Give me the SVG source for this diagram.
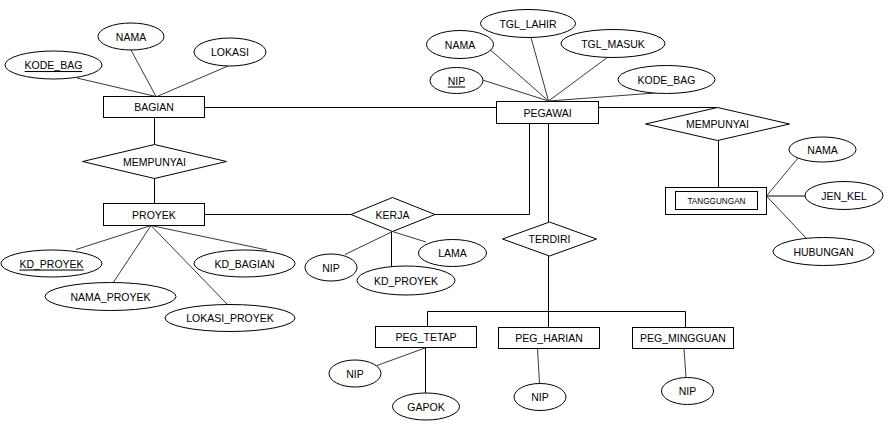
<svg xmlns="http://www.w3.org/2000/svg" width="888" height="426" viewBox="0 0 888 426">
<style>
.s{fill:#fff;stroke:#000;stroke-width:1}
.c{fill:none;stroke:#000;stroke-width:1}
.a{fill:none;stroke:#222;stroke-width:0.9}
text{font-family:"Liberation Sans",Arial,sans-serif;font-size:10.5px;fill:#000;text-anchor:middle;dominant-baseline:central}
.u{text-decoration:underline}
.sm{font-size:8.2px}
</style>
<rect width="888" height="426" fill="#fff"/>
<g id="connectors">
<!-- BAGIAN attrs -->
<line class="a" x1="77" y1="78" x2="156" y2="96.5"/>
<line class="a" x1="131" y1="50" x2="156" y2="96.5"/>
<line class="a" x1="228" y1="66" x2="157" y2="96.5"/>
<line class="c" x1="204" y1="107.5" x2="496.5" y2="107.5"/>
<line class="c" x1="154.5" y1="117.5" x2="154.5" y2="144.5"/>
<line class="c" x1="154.5" y1="178.5" x2="154.5" y2="203.5"/>
<!-- PROYEK attrs -->
<line class="a" x1="151" y1="225.5" x2="76" y2="249.5"/>
<line class="a" x1="151" y1="225.5" x2="113" y2="283"/>
<line class="a" x1="151" y1="225.5" x2="227" y2="304"/>
<line class="a" x1="151" y1="225.5" x2="267" y2="250"/>
<line class="c" x1="204" y1="214.5" x2="351" y2="214.5"/>
<!-- KERJA -->
<polyline class="c" points="435,214.5 529.5,214.5 529.5,123.5"/>
<line class="a" x1="392.5" y1="231.5" x2="345" y2="254.5"/>
<line class="c" x1="391.5" y1="231.5" x2="391.5" y2="266.5"/>
<line class="a" x1="392.5" y1="231.5" x2="426" y2="242"/>
<!-- PEGAWAI attrs -->
<line class="a" x1="482.5" y1="80" x2="548.5" y2="101"/>
<line class="a" x1="490.5" y1="50" x2="548.5" y2="101"/>
<line class="a" x1="531" y1="37.5" x2="548.5" y2="101"/>
<line class="a" x1="608" y1="57" x2="548.5" y2="101"/>
<line class="a" x1="655" y1="93" x2="548.5" y2="101"/>
<line class="c" x1="548.5" y1="123.5" x2="548.5" y2="222"/>
<!-- TERDIRI -->
<line class="c" x1="548.5" y1="256" x2="548.5" y2="327.5"/>
<polyline class="c" points="427.5,326.5 427.5,311.5 685.5,311.5 685.5,327.5"/>
<!-- PEG_TETAP attrs -->
<line class="a" x1="425" y1="348" x2="377" y2="365.5"/>
<line class="c" x1="425.5" y1="348" x2="425.5" y2="393.5"/>
<line class="a" x1="537.5" y1="348.5" x2="539.5" y2="383.5"/>
<line class="a" x1="684" y1="348.5" x2="686" y2="377.5"/>
<!-- MEMPUNYAI right -->
<line class="c" x1="598.5" y1="107.5" x2="717.5" y2="107.5"/>
<line class="c" x1="718.5" y1="140.5" x2="718.5" y2="187.5"/>
<line class="a" x1="766.5" y1="196" x2="798" y2="158"/>
<line class="c" x1="766.5" y1="196" x2="805" y2="196"/>
<line class="a" x1="766.5" y1="196" x2="806" y2="238"/>
</g>
<g id="bagian"><rect class="s" x="103.5" y="96.5" width="101" height="21"/><text x="154" y="107">BAGIAN</text></g>
<g id="bagian-nama"><ellipse class="s" cx="131" cy="36.5" rx="33" ry="13.5"/><text x="131" y="36.5">NAMA</text></g>
<g id="bagian-lokasi"><ellipse class="s" cx="230" cy="52" rx="36" ry="14"/><text x="230" y="52">LOKASI</text></g>
<g id="bagian-kode"><ellipse class="s" cx="53.5" cy="65" rx="48.5" ry="14"/><text class="u" x="53.5" y="65">KODE_BAG</text></g>
<g id="mempunyai1"><polygon class="s" points="82.5,161.5 154.5,144.5 226.5,161.5 154.5,178.5"/><text x="154.5" y="161.5">MEMPUNYAI</text></g>
<g id="proyek"><rect class="s" x="103.5" y="203.5" width="101" height="22"/><text x="154" y="214.5">PROYEK</text></g>
<g id="kd-proyek"><ellipse class="s" cx="51.5" cy="263.5" rx="50.5" ry="13.5"/><text class="u" x="51.5" y="263.5">KD_PROYEK</text></g>
<g id="nama-proyek"><ellipse class="s" cx="110.5" cy="296.5" rx="65.5" ry="14"/><text x="110.5" y="296.5">NAMA_PROYEK</text></g>
<g id="lokasi-proyek"><ellipse class="s" cx="230" cy="318" rx="65" ry="13.5"/><text x="230" y="318">LOKASI_PROYEK</text></g>
<g id="kd-bagian"><ellipse class="s" cx="244.5" cy="263.5" rx="50.5" ry="13.5"/><text x="244.5" y="263.5">KD_BAGIAN</text></g>
<g id="kerja"><polygon class="s" points="351,214.5 392.5,197.5 435,214.5 392.5,231.5"/><text x="392.5" y="214.5">KERJA</text></g>
<g id="kerja-nip"><ellipse class="s" cx="331" cy="267.5" rx="26" ry="13.5"/><text x="331" y="267.5">NIP</text></g>
<g id="kerja-kdproyek"><ellipse class="s" cx="406" cy="280.5" rx="49" ry="14.5"/><text x="406" y="280.5">KD_PROYEK</text></g>
<g id="kerja-lama"><ellipse class="s" cx="452.5" cy="253" rx="34" ry="13.5"/><text x="452.5" y="253">LAMA</text></g>
<g id="pegawai"><rect class="s" x="496.5" y="101.5" width="102" height="22"/><text x="547.5" y="112.5">PEGAWAI</text></g>
<g id="pegawai-tgllahir"><ellipse class="s" cx="528" cy="23.5" rx="47.5" ry="14"/><text x="528" y="23.5">TGL_LAHIR</text></g>
<g id="pegawai-nama"><ellipse class="s" cx="460" cy="44.5" rx="33.5" ry="14"/><text x="460" y="44.5">NAMA</text></g>
<g id="pegawai-nip"><ellipse class="s" cx="456.5" cy="80.5" rx="26.5" ry="13"/><text class="u" x="456.5" y="80.5">NIP</text></g>
<g id="pegawai-tglmasuk"><ellipse class="s" cx="613" cy="43.5" rx="52" ry="14"/><text x="613" y="43.5">TGL_MASUK</text></g>
<g id="pegawai-kodebag"><ellipse class="s" cx="666.5" cy="79.5" rx="48.5" ry="14"/><text x="666.5" y="79.5">KODE_BAG</text></g>
<g id="terdiri"><polygon class="s" points="502.5,239 549.5,222 596.5,239 549.5,256"/><text x="549.5" y="239">TERDIRI</text></g>
<g id="peg-tetap"><rect class="s" x="375.5" y="326.5" width="101" height="21"/><text x="426" y="337">PEG_TETAP</text></g>
<g id="peg-tetap-nip"><ellipse class="s" cx="355" cy="373.5" rx="26" ry="13.5"/><text x="355" y="373.5">NIP</text></g>
<g id="peg-tetap-gapok"><ellipse class="s" cx="426" cy="406.5" rx="33.5" ry="13.5"/><text x="426" y="406.5">GAPOK</text></g>
<g id="peg-harian"><rect class="s" x="498.5" y="327.5" width="101" height="21"/><text x="549" y="338">PEG_HARIAN</text></g>
<g id="peg-harian-nip"><ellipse class="s" cx="540" cy="397" rx="26" ry="13.5"/><text x="540" y="397">NIP</text></g>
<g id="peg-mingguan"><rect class="s" x="632.5" y="327.5" width="101" height="21"/><text x="683" y="338">PEG_MINGGUAN</text></g>
<g id="peg-mingguan-nip"><ellipse class="s" cx="687.5" cy="391" rx="26" ry="13.5"/><text x="687.5" y="391">NIP</text></g>
<g id="mempunyai2"><polygon class="s" points="645.5,124 717.5,107.5 789.5,124 717.5,140.5"/><text x="717.5" y="124">MEMPUNYAI</text></g>
<g id="tanggungan"><rect class="s" x="665.5" y="187.5" width="101" height="27"/><rect class="s" x="675.5" y="191.5" width="82" height="18"/><text class="sm" x="716.5" y="201">TANGGUNGAN</text></g>
<g id="tanggungan-nama"><ellipse class="s" cx="822.5" cy="149.5" rx="33.5" ry="12.5"/><text x="822.5" y="149.5">NAMA</text></g>
<g id="tanggungan-jenkel"><ellipse class="s" cx="844" cy="195.5" rx="39" ry="14"/><text x="844" y="195.5">JEN_KEL</text></g>
<g id="tanggungan-hubungan"><ellipse class="s" cx="823.5" cy="251.5" rx="50.5" ry="14"/><text x="823.5" y="251.5">HUBUNGAN</text></g>
</svg>
